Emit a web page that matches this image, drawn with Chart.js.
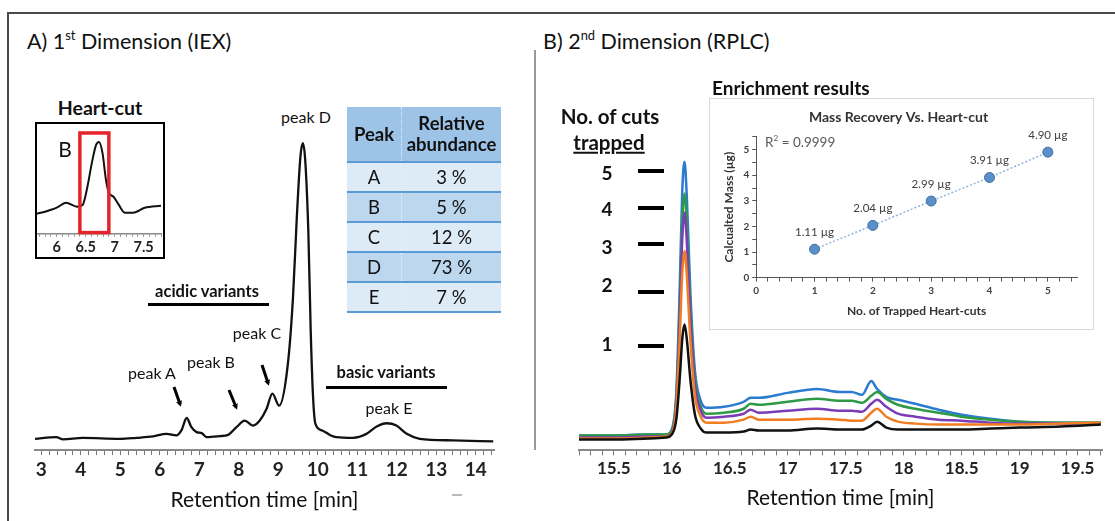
<!DOCTYPE html>
<html>
<head>
<meta charset="utf-8">
<script src="https://cdn.jsdelivr.net/npm/chart.js@4.4.1/dist/chart.umd.min.js"></script>
<style>
  body { margin: 0; background: #fff; font-family: Lato, "Open Sans", sans-serif; color: #111; }
  #page { position: relative; width: 1115px; height: 521px; overflow: hidden; background: #fff; }
  canvas { position: absolute; }
  .t { position: absolute; white-space: nowrap; transform: translate(-50%, -50%); line-height: 1; }
  .l { position: absolute; white-space: nowrap; transform: translateY(-50%); line-height: 1; }
  .bar { position: absolute; background: #000; }
  .b { font-weight: bold; }
  sup { font-size: 0.6em; vertical-align: 0.75em; line-height: 0; }
  #peakTable { position: absolute; left: 347px; top: 107px; width: 154px; border-collapse: collapse; font-size: 18.5px; text-align: center; }
  #peakTable th { background: #9dc3e6; font-weight: bold; height: 54px; line-height: 1.12; border-bottom: 2px solid #5b9bd5; padding: 0; }
  #peakTable td { height: 28px; border-bottom: 2px solid #5b9bd5; padding: 0; }
  #peakTable tr:nth-child(even) td { background: #ddebf7; }
  #peakTable tr:nth-child(odd) td { background: #bdd7ee; }
  #peakTable td:first-child, #peakTable th:first-child { border-right: 1px dotted #e8f0f8; width: 54px; }
</style>
</head>
<body>
<div id="page">
  <!-- frame -->
  <div style="position:absolute;left:7px;top:12px;width:1115px;height:2px;background:#4a4a4a"></div>
  <div style="position:absolute;left:7px;top:12px;width:2px;height:520px;background:#4a4a4a"></div>
  <div style="position:absolute;left:534px;top:50px;width:2px;height:400px;background:#999"></div>

  <div class="l" style="left:27px;top:42px;font-size:21.5px">A) 1<sup>st</sup> Dimension (IEX)</div>
  <div class="l" style="left:543px;top:42px;font-size:21.5px">B) 2<sup>nd</sup> Dimension (RPLC)</div>

  <canvas id="chartA" width="490" height="385" style="left:20px;top:130px"></canvas>
  <canvas id="chartB" width="545" height="373" style="left:570px;top:140px"></canvas>

  <!-- heart-cut inset -->
  <div class="t b" style="left:100px;top:108px;font-size:19.5px">Heart-cut</div>
  <div style="position:absolute;left:35px;top:122px;width:130px;height:137px;border:2px solid #000;box-sizing:border-box;background:#fff"></div>
  <canvas id="heartCut" width="126" height="134" style="left:37px;top:124px"></canvas>
  <div class="t" style="left:65px;top:148px;font-size:21px">B</div>

  <table id="peakTable">
    <tr><th>Peak</th><th>Relative<br>abundance</th></tr>
  </table>

  <!-- panel A annotations -->
  <div class="t" style="left:306px;top:117px;font-size:16px">peak D</div>
  <div class="t b" style="left:207px;top:291px;font-size:16.5px">acidic variants</div>
  <div class="bar" style="left:148px;top:303px;width:121px;height:2.5px"></div>
  <div class="t" style="left:257px;top:333px;font-size:16px">peak C</div>
  <div class="t" style="left:211px;top:362px;font-size:16px">peak B</div>
  <div class="t" style="left:152px;top:373px;font-size:16px">peak A</div>
  <div class="t b" style="left:386px;top:372px;font-size:16.5px">basic variants</div>
  <div class="bar" style="left:326px;top:386px;width:121px;height:2.5px"></div>
  <div class="t" style="left:389px;top:408px;font-size:16px">peak E</div>
  <div style="position:absolute;left:452px;top:494px;width:10px;height:1.5px;background:#bbb"></div>
  <svg width="1115" height="521" style="position:absolute;left:0;top:0;pointer-events:none">
    <defs>
      <marker id="ah" markerWidth="6" markerHeight="6" refX="3" refY="3" orient="auto" markerUnits="userSpaceOnUse" viewBox="0 0 6 6">
        <path d="M0,0 L6,3 L0,6 Z" fill="#000"/>
      </marker>
    </defs>
    <g stroke="#000" stroke-width="3" marker-end="url(#ah)">
      <line x1="174" y1="387" x2="180" y2="404"/>
      <line x1="229" y1="390" x2="236" y2="407"/>
      <line x1="262" y1="365" x2="268" y2="383"/>
    </g>
  </svg>

  <!-- panel B annotations -->
  <div class="t b" style="left:610px;top:116px;font-size:20.5px">No. of cuts</div>
  <div class="t b" style="left:609px;top:142px;font-size:20.5px;text-decoration:underline">trapped</div>
  <div id="cutMarks"></div>

  <div class="l b" style="left:712px;top:87px;font-size:19px">Enrichment results</div>
  <div style="position:absolute;left:709px;top:98px;width:385px;height:232px;border:1px solid #d9d9d9;box-sizing:border-box;background:#fff"></div>
  <canvas id="enrich" width="383" height="230" style="left:710px;top:99px"></canvas>
  <div class="l" style="left:765px;top:143px;font-size:13.5px;color:#595959">R<sup>2</sup> = 0.9999</div>
</div>

<script>
// ---- panel A: 1st dimension IEX trace (signal = height above baseline axis) ----
const iexTime = [2.84, 3.38, 3.55, 4.05, 4.99, 5.41, 5.83, 6.17, 6.42, 6.55, 6.68, 6.8, 6.93, 7.06, 7.18, 7.52, 7.73, 7.94, 8.15, 8.36, 8.53, 8.7, 8.85, 9.02, 9.24, 9.37, 9.47, 9.56, 9.62, 9.68, 9.76, 9.82, 9.88, 9.94, 10.11, 10.33, 10.47, 10.89, 11.23, 11.49, 11.74, 11.99, 12.25, 12.58, 13.42, 14.44];
const iexSignal = [11.3, 13, 10.7, 12.3, 11.3, 12.3, 13.7, 16.3, 14.7, 20, 32.3, 23, 18, 17, 13, 14, 15.3, 23, 29.7, 24.7, 29.7, 41.3, 57, 44.7, 86.3, 153, 236.3, 296.3, 309.7, 293, 220, 120, 53, 26.3, 19.7, 14.7, 13, 12.3, 16.3, 23.7, 27, 24.7, 16.3, 11.3, 9.7, 8.7];
const iexTicks = [3, 4, 5, 6, 7, 8, 9, 10, 11, 12, 13, 14];

// heart-cut zoom around peak B
const heartTime = [5.66, 5.8, 6.0, 6.16, 6.35, 6.45, 6.53, 6.61, 6.68, 6.73, 6.79, 6.85, 6.9, 6.98, 7.07, 7.18, 7.32, 7.52, 7.8];
const heartSignal = [20, 22, 26, 31, 27, 29, 47, 72, 89, 92, 81, 54, 41, 37, 29, 21, 21, 26, 28];
const heartTicks = [6, 6.5, 7, 7.5];
const cutWindow = [6.4, 6.9];

// relative abundance table
const peakNames = ['A', 'B', 'C', 'D', 'E'];
const peakAbundance = [3, 5, 12, 73, 7];

// ---- panel B: 2nd dimension RPLC traces, one per number of trapped cuts ----
const rplcTime = [15.2, 15.5, 15.8, 15.95, 16.0, 16.04, 16.07, 16.09, 16.11, 16.13, 16.16, 16.2, 16.25, 16.3, 16.45, 16.62, 16.68, 16.75, 17.0, 17.25, 17.45, 17.55, 17.64, 17.72, 17.77, 17.85, 17.95, 18.1, 18.3, 18.5, 18.75, 19.0, 19.35, 19.7];
const cut1 = [11, 11, 12, 13, 16, 32, 75, 112, 127, 112, 72, 36, 22, 18, 18, 19, 21, 20, 20, 22, 21, 21, 21, 25, 29, 23, 21, 21, 21, 21, 22, 23, 24, 26];
const cut2 = [12, 12, 13, 14, 17, 45, 118, 178, 201, 176, 112, 55, 34, 28, 28, 31, 34, 31, 31, 32, 31, 30, 30, 38, 42, 34, 29, 27, 26, 26, 26, 26, 27, 28];
const cut3 = [13, 13, 14, 14, 18, 50, 140, 212, 240, 210, 134, 66, 40, 33, 34, 37, 41, 38, 40, 42, 40, 40, 39, 47, 51, 44, 37, 34, 31, 30, 28, 27, 27, 27];
const cut4 = [15, 15, 16, 16, 20, 55, 150, 230, 259, 228, 145, 72, 44, 37, 38, 42, 47, 46, 49, 52, 50, 50, 48, 55, 59, 52, 46, 42, 38, 34, 31, 29, 28, 28];
const cut5 = [15, 15, 16, 16, 21, 60, 170, 260, 291, 255, 160, 80, 50, 43, 44, 49, 53, 53, 58, 62, 59, 59, 56, 70, 62, 54, 51, 47, 41, 36, 32, 29, 28, 28];
const cutColors = ['#111111', '#f07d22', '#7a3db5', '#2f9a46', '#2b7bd1'];
const rplcTicks = [15.5, 16, 16.5, 17, 17.5, 18, 18.5, 19, 19.5];

// "No. of cuts trapped" marker rows (label, y position of the bar)
const cutLabels = ['5', '4', '3', '2', '1'];
const cutLabelY = [172, 208, 246, 284, 343];
const cutBarY = [171, 208, 244, 292, 346];

// enrichment inset
const cutsTrapped = [1, 2, 3, 4, 5];
const massUg = [1.11, 2.04, 2.99, 3.91, 4.90];

Chart.defaults.font.family = 'Lato, "Open Sans", sans-serif';
Chart.defaults.animation = false;

function minorTicks(lo, hi, step) {
  return function (scale) {
    const ticks = [];
    for (let v = lo; v <= hi + 1e-9; v += step) ticks.push({ value: +v.toFixed(3) });
    scale.ticks = ticks;
  };
}
function majorLabel(list) {
  return v => (list.includes(+(+v).toFixed(3)) ? String(v) : '');
}
function points(xs, ys) {
  return xs.map((x, i) => ({ x: x, y: ys[i] }));
}

// table rows
const tbl = document.getElementById('peakTable');
peakNames.forEach((n, i) => {
  const tr = document.createElement('tr');
  tr.innerHTML = '<td>' + n + '</td><td>' + peakAbundance[i] + ' %</td>';
  tbl.appendChild(tr);
});

// cut number markers
const marks = document.getElementById('cutMarks');
cutLabels.forEach((n, i) => {
  marks.insertAdjacentHTML('beforeend',
    '<div class="t b" style="left:607px;top:' + cutLabelY[i] + 'px;font-size:19px">' + n + '</div>' +
    '<div class="bar" style="left:638px;top:' + (cutBarY[i] - 2) + 'px;width:26px;height:4px"></div>');
});

// chart A
new Chart(document.getElementById('chartA'), {
  type: 'line',
  data: {
    datasets: [{
      data: points(iexTime, iexSignal),
      borderColor: '#111', borderWidth: 2.3, pointRadius: 0,
      cubicInterpolationMode: 'monotone'
    }]
  },
  options: {
    responsive: false,
    layout: { padding: { left: 15, right: 16, top: 0, bottom: 0 } },
    plugins: { legend: { display: false }, tooltip: { enabled: false } },
    scales: {
      x: {
        type: 'linear', min: 2.84, max: 14.46,
        afterBuildTicks: minorTicks(3, 14.4, 0.2),
        grid: { drawOnChartArea: false, tickLength: 5, color: '#777' },
        border: { color: '#888', width: 2 },
        ticks: { autoSkip: false, maxRotation: 0, padding: 3, color: '#222',
          font: { size: 19, weight: 'bold' }, callback: majorLabel(iexTicks) },
        title: { display: true, text: 'Retention time [min]', color: '#111',
          font: { size: 21 }, padding: { top: 4, bottom: 2 } }
      },
      y: { display: false, min: 0, max: 323 }
    }
  }
});

// heart-cut inset
const cutBox = {
  id: 'cutBox',
  afterDatasetsDraw(chart) {
    const { ctx, scales: { x, y } } = chart;
    const l = x.getPixelForValue(cutWindow[0]), r = x.getPixelForValue(cutWindow[1]);
    const t = y.getPixelForValue(101), b = y.getPixelForValue(0);
    ctx.save();
    ctx.strokeStyle = '#e3242b';
    ctx.lineWidth = 3.5;
    ctx.strokeRect(l, t, r - l, b - t - 1);
    ctx.restore();
  }
};
new Chart(document.getElementById('heartCut'), {
  type: 'line',
  data: {
    datasets: [{
      data: points(heartTime, heartSignal),
      borderColor: '#111', borderWidth: 2, pointRadius: 0,
      cubicInterpolationMode: 'monotone'
    }]
  },
  options: {
    responsive: false,
    layout: { padding: { left: 0, right: 0, top: 0, bottom: 0 } },
    plugins: { legend: { display: false }, tooltip: { enabled: false } },
    scales: {
      x: {
        type: 'linear', min: 5.66, max: 7.8,
        afterBuildTicks: minorTicks(5.7, 7.8, 0.1),
        grid: { drawOnChartArea: false, tickLength: 3, color: '#888' },
        border: { color: '#888', width: 1.5 },
        ticks: { autoSkip: false, maxRotation: 0, padding: 2, color: '#222',
          font: { size: 14.5, weight: 'bold' }, callback: majorLabel(heartTicks) }
      },
      y: { display: false, min: 0, max: 110 }
    }
  },
  plugins: [cutBox]
});

// chart B
const cutSeries = [cut1, cut2, cut3, cut4, cut5];
new Chart(document.getElementById('chartB'), {
  type: 'line',
  data: {
    datasets: cutSeries.map((s, i) => ({
      label: cutLabels[4 - i],
      data: points(rplcTime, s),
      borderColor: cutColors[i], borderWidth: 2.5, pointRadius: 0,
      cubicInterpolationMode: 'monotone'
    }))
  },
  options: {
    responsive: false,
    layout: { padding: { left: 9, right: 13, top: 0, bottom: 0 } },
    plugins: { legend: { display: false }, tooltip: { enabled: false } },
    scales: {
      x: {
        type: 'linear', min: 15.2, max: 19.71,
        afterBuildTicks: minorTicks(15.2, 19.7, 0.1),
        grid: { drawOnChartArea: false, tickLength: 5, color: '#777' },
        border: { color: '#888', width: 2 },
        ticks: { autoSkip: false, maxRotation: 0, padding: 3, color: '#222',
          font: { size: 17, weight: 'bold' }, callback: majorLabel(rplcTicks) },
        title: { display: true, text: 'Retention time [min]', color: '#111',
          font: { size: 21 }, padding: { top: 4, bottom: 2 } }
      },
      y: { display: false, min: 0, max: 313 }
    }
  }
});

// enrichment scatter
const valueLabels = {
  id: 'valueLabels',
  afterDatasetsDraw(chart) {
    const { ctx } = chart;
    ctx.save();
    ctx.font = '11.5px Lato, "Open Sans", sans-serif';
    ctx.fillStyle = '#404040';
    ctx.textAlign = 'center';
    ctx.textBaseline = 'middle';
    chart.getDatasetMeta(0).data.forEach((pt, i) => {
      ctx.fillText(massUg[i].toFixed(2) + ' µg', pt.x, pt.y - 17);
    });
    ctx.restore();
  }
};
new Chart(document.getElementById('enrich'), {
  type: 'scatter',
  data: {
    datasets: [{
      data: points(cutsTrapped, massUg),
      showLine: true,
      borderColor: '#8fb3dc', borderWidth: 1.5, borderDash: [2, 2],
      pointRadius: 5, pointBackgroundColor: '#5b8fc9', pointBorderColor: '#3f6f9f', pointBorderWidth: 1
    }]
  },
  options: {
    responsive: false,
    layout: { padding: { left: 10, right: 16, top: 0, bottom: 9 } },
    plugins: {
      legend: { display: false }, tooltip: { enabled: false },
      title: { display: true, text: 'Mass Recovery Vs. Heart-cut', color: '#333',
        font: { size: 14, weight: 'bold' }, padding: { top: 10, bottom: 11 } }
    },
    scales: {
      x: {
        type: 'linear', min: 0, max: 5.5,
        afterBuildTicks: minorTicks(0, 5.4, 0.2),
        grid: { drawOnChartArea: false, tickLength: 4, color: '#555' },
        border: { color: '#555', width: 1 },
        ticks: { autoSkip: false, maxRotation: 0, padding: 3, color: '#404040',
          font: { size: 10, weight: 'bold' }, callback: majorLabel([0, 1, 2, 3, 4, 5]) },
        title: { display: true, text: 'No. of Trapped Heart-cuts', color: '#333',
          font: { size: 12, weight: 'bold' }, padding: { top: 4, bottom: 2 } }
      },
      y: {
        min: 0, max: 5.5,
        afterBuildTicks: minorTicks(0, 5.5, 0.5),
        grid: { drawOnChartArea: false, tickLength: 4, color: '#555' },
        border: { color: '#555', width: 1 },
        ticks: { autoSkip: false, padding: 3, color: '#404040',
          font: { size: 10, weight: 'bold' }, callback: majorLabel([0, 1, 2, 3, 4, 5]) },
        title: { display: true, text: 'Calcualted Mass (µg)', color: '#333',
          font: { size: 12, weight: 'bold' }, padding: { top: 2, bottom: 4 } }
      }
    }
  },
  plugins: [valueLabels]
});
</script>
</body>
</html>
